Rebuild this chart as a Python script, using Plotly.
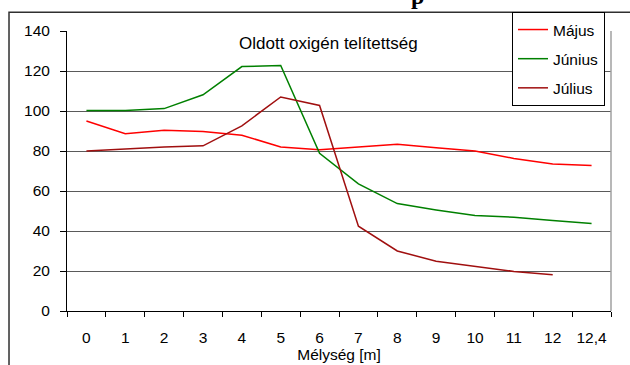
import plotly.graph_objects as go

categories = ["0", "1", "2", "3", "4", "5", "6", "7", "8", "9", "10", "11", "12", "12,4"]
majus = [95.0, 88.6, 90.4, 89.7, 87.9, 82.0, 80.6, 82.0, 83.4, 81.6, 80.0, 76.3, 73.5, 72.7]
junius = [100.2, 100.2, 101.2, 108.1, 122.2, 122.8, 78.8, 63.6, 53.7, 50.5, 47.7, 46.9, 45.3, 43.8]
julius = [80.0, 81.0, 82.0, 82.6, 92.6, 107.0, 102.8, 42.4, 30.0, 24.9, 22.2, 19.8, 18.1, None]
y_ticks = [0, 20, 40, 60, 80, 100, 120, 140]

series = [
    ("Május", majus, "#FF0000"),
    ("Június", junius, "#008000"),
    ("Július", julius, "#A00F0F"),
]

FONT = "Liberation Sans, Arial, sans-serif"

fig = go.Figure()
for i, (name, vals, col) in enumerate(series):
    fig.add_trace(go.Scatter(
        x=categories, y=vals, name=name, mode="lines",
        line=dict(color=col, width=1.5),
        legendgroup=f"g{i}",
    ))

fig.update_layout(
    width=630, height=365,
    margin=dict(l=67, r=19, t=29, b=54),
    paper_bgcolor="white", plot_bgcolor="white",
    font=dict(family=FONT, size=15.5, color="black"),
    showlegend=True,
    legend=dict(
        x=0.818, y=1.068, xanchor="left", yanchor="top",
        bgcolor="white", bordercolor="black", borderwidth=1,
        font=dict(family=FONT, size=15.5, color="black"),
        tracegroupgap=6, itemwidth=30,
    ),
    xaxis=dict(
        type="category", categoryorder="array", categoryarray=categories,
        range=[-0.5, len(categories) - 0.5],
        showline=True, linecolor="black", linewidth=1,
        ticks="outside", ticklen=5, tickcolor="black", tickson="boundaries",
        showgrid=False, zeroline=False, tickangle=0, automargin=False,
        ticklabelstandoff=12,
        title=dict(text="Mélység [m]", font=dict(family=FONT, size=15.5), standoff=0),
    ),
    yaxis=dict(
        range=[0, 140], tickvals=y_ticks, automargin=False,
        showline=True, linecolor="black", linewidth=1,
        ticks="outside", ticklen=6, tickcolor="black",
        showgrid=True, gridcolor="#5a5a5a", gridwidth=1,
        zeroline=False, ticklabelstandoff=7,
    ),
    annotations=[
        dict(text="Oldott oxigén telítettség", xref="paper", yref="paper",
             x=0.48, y=0.954, xanchor="center", yanchor="middle",
             showarrow=False, font=dict(family=FONT, size=17, color="black")),
        dict(text="<b>p</b>", xref="paper", yref="paper",
             x=0.645, y=1.071, xanchor="center", yanchor="bottom",
             showarrow=False, font=dict(family="Liberation Serif, serif", size=24, color="black")),
    ],
    shapes=[
        dict(type="line", xref="paper", yref="paper", x0=1, x1=1, y0=0, y1=1,
             line=dict(color="#a0a0a0", width=1.5)),
        dict(type="rect", xref="paper", yref="paper", x0=-0.1066, x1=1.2, y0=-0.3, y1=1.0674,
             line=dict(color="#303030", width=1.5), fillcolor="rgba(0,0,0,0)", layer="below"),
    ],
)

fig.write_html("out.html")
